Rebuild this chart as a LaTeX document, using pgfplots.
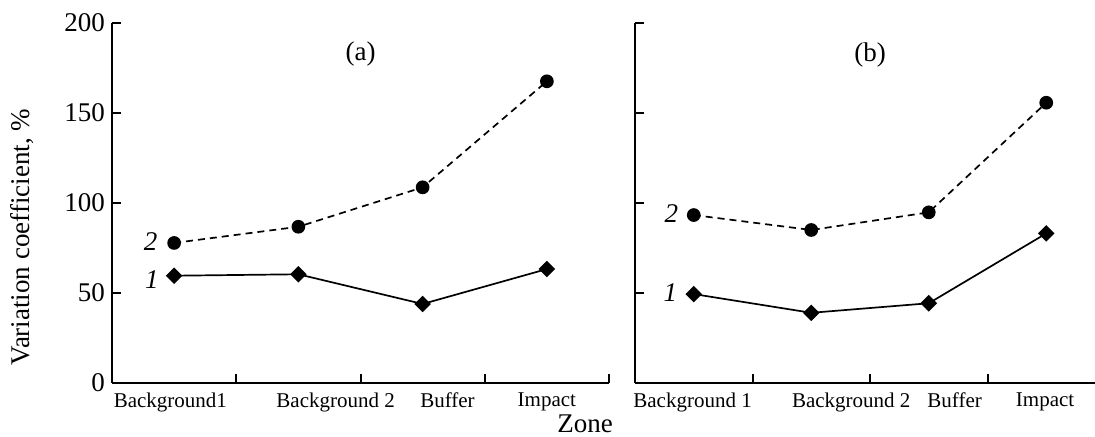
\documentclass[border=0pt]{standalone}
\usepackage{fontspec}
\setmainfont{Liberation Serif}
\usepackage{pgfplots}
\pgfplotsset{compat=1.18}

\newcommand{\lbl}{\fontsize{13.5}{16}\selectfont}
\pgfplotsset{
  panel/.style={
    scale only axis, height=180pt, anchor=south west, clip=false,
    axis x line*=bottom, axis y line*=left,
    ymin=0, ymax=200, ytick={0,50,...,200},
    xmin=0, xtick={1,2,3,4}, xticklabels={},
    tick align=inside, major tick length=4.5pt,
    axis line style={line width=1pt},
    every tick/.style={line width=1pt, black},
    /pgf/number format/assume math mode=true,
    yticklabel style={font=\lbl},
    extra x tick style={major tick length=0pt,
      tick label style={font=\fontsize{10.5}{12}\selectfont, yshift=-1.2pt}},
  },
  s1/.style={black, line width=0.85pt, mark=square*, mark size=2.5pt, mark options={rotate=45}},
  s2/.style={black, line width=0.85pt, dash pattern=on 3.5pt off 2.5pt, mark=*, mark size=3pt, mark options={solid}},
}

\begin{document}
\begin{tikzpicture}
\useasboundingbox (0,0) rectangle (547.5pt,218.5pt);

% (a)
\begin{axis}[panel, at={(56pt,27pt)}, width=248.5pt, xmax=4,
  extra x ticks={0.47,1.80,2.70,3.50},
  extra x tick labels={Background1,Background 2,Buffer,Impact},
  ylabel={Variation coefficient, \%},
  ylabel style={at={(axis description cs:-0.181,0.405)}, anchor=center, font=\lbl},
  xlabel={Zone},
  xlabel style={at={(axis description cs:0.952,-0.113)}, anchor=center, font=\lbl},
]
\addplot[s1] coordinates {(0.5,59.6)(1.5,60.4)(2.5,43.9)(3.5,63.3)};
\addplot[s2] coordinates {(0.5,77.8)(1.5,86.8)(2.5,108.7)(3.5,167.6)};
\node[font=\lbl] at (axis cs:2,183) {(a)};
\node[font=\lbl\itshape] at (axis cs:0.31,78.5) {2};
\node[font=\lbl\itshape] at (axis cs:0.32,57.2) {1};
\end{axis}

% (b)
\begin{axis}[panel, at={(317.5pt,27pt)}, width=230pt, xmax=3.915,
  yticklabels={},
  extra x ticks={0.49,1.84,2.72,3.49},
  extra x tick labels={Background 1,Background 2,Buffer,Impact},
]
\addplot[s1] coordinates {(0.5,49.4)(1.5,39.0)(2.5,44.3)(3.5,83.1)};
\addplot[s2] coordinates {(0.5,93.3)(1.5,85.0)(2.5,94.8)(3.5,155.7)};
\node[font=\lbl] at (axis cs:2,182) {(b)};
\node[font=\lbl\itshape] at (axis cs:0.31,94.4) {2};
\node[font=\lbl\itshape] at (axis cs:0.30,50) {1};
\end{axis}
\end{tikzpicture}
\end{document}
